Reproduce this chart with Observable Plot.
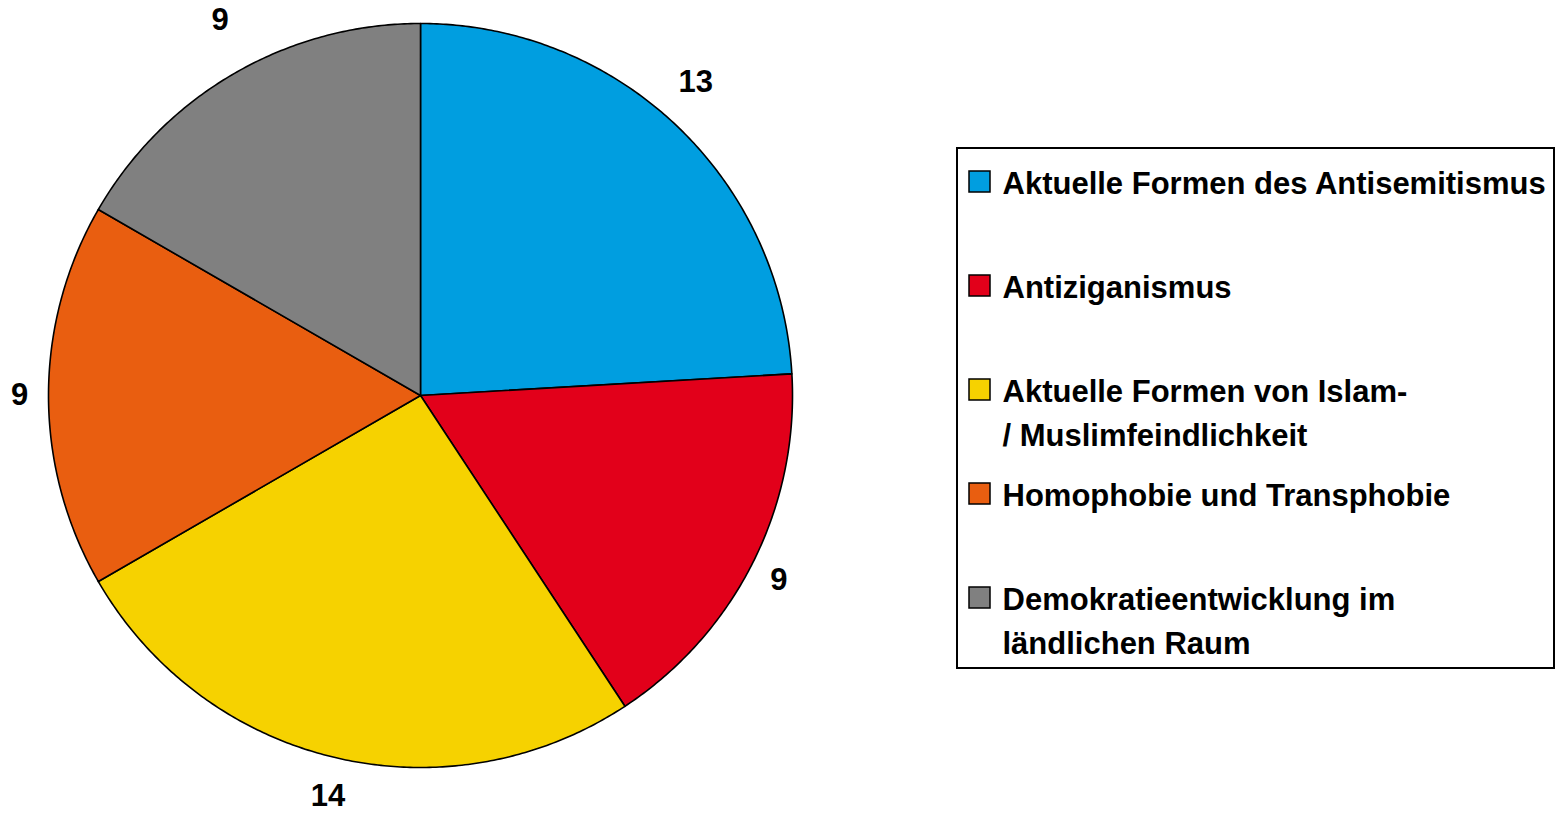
<!DOCTYPE html>
<html>
<head>
<meta charset="utf-8">
<script src="https://cdn.jsdelivr.net/npm/d3@7"></script>
<script src="https://cdn.jsdelivr.net/npm/@observablehq/plot@0.6"></script>
<style>
  html, body { margin: 0; padding: 0; background: #fff; }
  #chart svg { display: block; }
</style>
</head>
<body>
<div id="chart"></div>
<script>
// ---- data ----
const categories = [
  "Aktuelle Formen des Antisemitismus",
  "Antiziganismus",
  "Aktuelle Formen von Islam-\n/ Muslimfeindlichkeit",
  "Homophobie und Transphobie",
  "Demokratieentwicklung im\nländlichen Raum"
];
const values = [13, 9, 14, 9, 9];
const colors = ["#009ee0", "#e2001a", "#f6d200", "#e95e10", "#808080"];

// ---- layout ----
const W = 1558, H = 813;
const cx = 420, cy = 395, R = 372;
const FONT = "Liberation Sans, Arial, sans-serif";
const FS = 31;

const arcs = d3.pie().sort(null).value(d => d.value)(
  categories.map((c, i) => ({cat: c, value: values[i], color: colors[i]}))
);

// slice polygons (center -> arc -> center), computed from the data
const slicePts = [];
arcs.forEach(a => {
  const n = Math.max(2, Math.ceil((a.endAngle - a.startAngle) / (Math.PI / 360)));
  slicePts.push({cat: a.data.cat, color: a.data.color, x: cx, y: cy});
  for (let k = 0; k <= n; k++) {
    const t = a.startAngle + (a.endAngle - a.startAngle) * k / n;
    slicePts.push({cat: a.data.cat, color: a.data.color, x: cx + R * Math.sin(t), y: cy - R * Math.cos(t)});
  }
  slicePts.push({cat: a.data.cat, color: a.data.color, x: cx, y: cy});
});

// value labels outside the pie
const labels = arcs.map(a => {
  const m = (a.startAngle + a.endAngle) / 2;
  const s = Math.sin(m), c = Math.cos(m);
  const gx = 29, gy = c > 0 ? 44 + 20 * c : 40;
  return {text: String(a.data.value), x: cx + (R + gx) * s, y: cy - (R + gy) * c};
});

// legend
const LX = 957, LY = 148, LX2 = 1554, LY2 = 668;
const legendTop = 171, legendStep = 104;
const legend = categories.map((c, i) => ({
  cat: c, color: colors[i],
  sx1: 969, sx2: 990, sy1: legendTop + i * legendStep, sy2: legendTop + i * legendStep + 21,
  tx: 1002, ty: legendTop - 9 + i * legendStep
}));

const plot = Plot.plot({
  width: W, height: H,
  margin: 0,
  x: {domain: [0, W], range: [0, W], axis: null},
  y: {domain: [0, H], range: [0, H], axis: null},
  color: {type: "identity"},
  style: {fontFamily: FONT, background: "#fff"},
  marks: [
    Plot.line(slicePts, {x: "x", y: "y", z: "cat", fill: "color", stroke: "#000", strokeWidth: 1.6, strokeLinejoin: "round", curve: "linear"}),
    Plot.text(labels, {x: "x", y: "y", text: "text", fontSize: FS, fontWeight: "bold", fill: "#000", textAnchor: "middle", lineAnchor: "middle"}),
    Plot.rect([{x1: LX, x2: LX2, y1: LY, y2: LY2}], {x1: "x1", x2: "x2", y1: "y1", y2: "y2", fill: "#fff", stroke: "#000", strokeWidth: 2}),
    Plot.rect(legend, {x1: "sx1", x2: "sx2", y1: "sy1", y2: "sy2", fill: "color", stroke: "#000", strokeWidth: 1.5}),
    Plot.text(legend, {x: "tx", y: "ty", text: "cat", fontSize: FS, fontWeight: "bold", fill: "#000", textAnchor: "start", lineAnchor: "top", lineHeight: 1.42})
  ]
});
document.getElementById("chart").appendChild(plot);
</script>
</body>
</html>
